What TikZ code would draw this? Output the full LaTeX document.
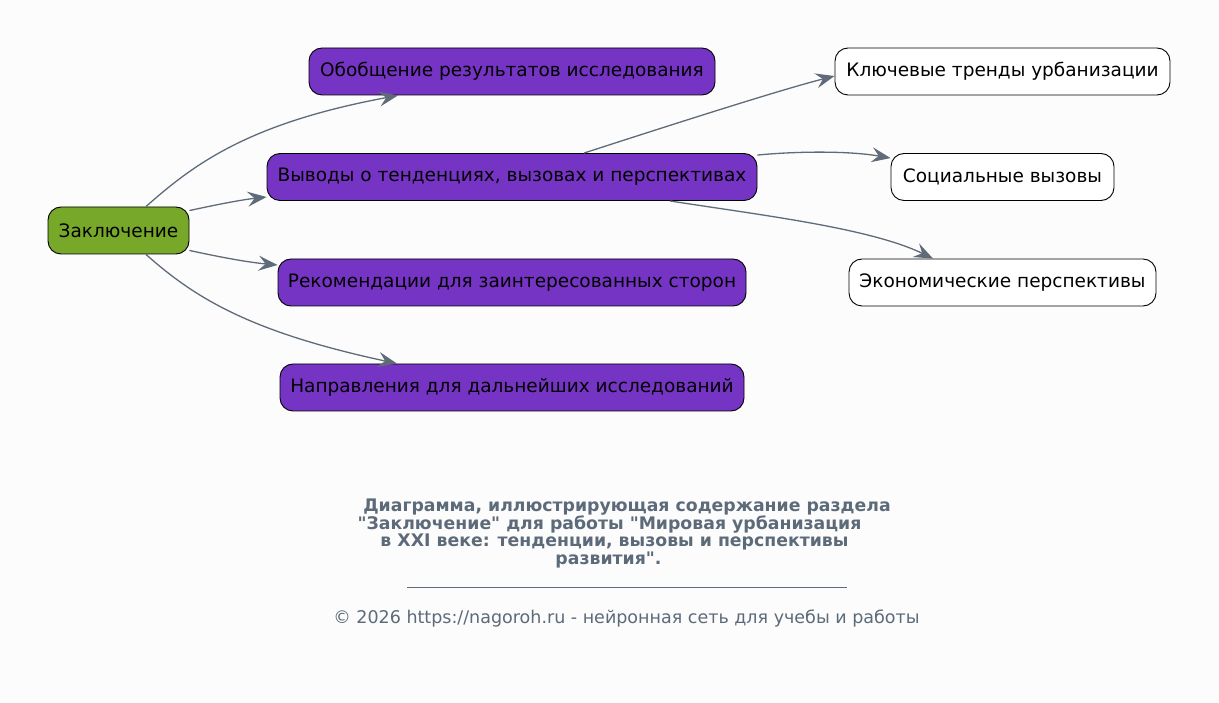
\documentclass[tikz,border=0pt]{standalone}
\usepackage{fontspec}
\setmainfont{DejaVu Sans}[Ligatures=TeXOff]
\usetikzlibrary{arrows.meta}
\definecolor{bg}{HTML}{FCFCFC}
\definecolor{pur}{HTML}{7634C4}
\definecolor{grn}{HTML}{77A82A}
\definecolor{edge}{HTML}{5F6B78}
\definecolor{ttl}{HTML}{5C6A7A}
\tikzset{
  box/.style={draw=black, line width=0.9pt, rounded corners=13pt, inner sep=0pt,
    minimum height=47pt, font=\fontsize{18.5}{22}\selectfont, text=black},
  purbox/.style={box, fill=pur},
  grnbox/.style={box, fill=grn},
  whtbox/.style={box, fill=white},
  conn/.style={draw=edge, line width=1.3pt, -{Stealth[length=19pt, width=15pt, inset=7pt]}},
  ttlfont/.style={font=\fontsize{17.3}{20}\selectfont\bfseries, text=ttl, inner sep=0pt},
}
\begin{document}
\begin{tikzpicture}[x=1pt, y=-1pt]
\fill[bg] (0,0) rectangle (1219,703);
\useasboundingbox (0,0) rectangle (1219,703);

\node[grnbox, minimum width=141pt] (z) at (118.5,230.5) {Заключение};
\node[purbox, minimum width=406pt] (o) at (512,71.5) {Обобщение результатов исследования};
\node[purbox, minimum width=490pt] (v) at (512,177) {Выводы о тенденциях, вызовах и перспективах};
\node[purbox, minimum width=468pt] (r) at (512,282.5) {Рекомендации для заинтересованных сторон};
\node[purbox, minimum width=464pt] (n) at (512,387.5) {Направления для дальнейших исследований};
\node[whtbox, minimum width=335pt] (k) at (1002.5,71.5) {Ключевые тренды урбанизации};
\node[whtbox, minimum width=223pt] (s) at (1002.5,177) {Социальные вызовы};
\node[whtbox, minimum width=307pt] (e) at (1002.5,282.5) {Экономические перспективы};

\draw[conn] ([xshift=27.5pt]z.north) .. controls (195,163) and (250,123) .. ([xshift=-114pt]o.south);
\draw[conn] ([yshift=-4pt]z.north east) .. controls (215,205) and (240,200) .. ([yshift=-20pt]v.west);
\draw[conn] ([yshift=4pt]z.south east) .. controls (215,256) and (245,262) .. ([yshift=17.5pt]r.west);
\draw[conn] ([xshift=27.5pt]z.south) .. controls (195,298) and (250,332) .. ([xshift=-115pt]n.north);
\draw[conn] ([xshift=72pt]v.north) .. controls (680,122) and (780,90) .. ([yshift=-4.5pt]k.west);
\draw[conn] ([yshift=-2pt]v.north east) .. controls (800,151) and (850,151) .. ([yshift=-5pt]s.north west);
\draw[conn] ([xshift=158pt]v.south) .. controls (760,215) and (870,228) .. ([xshift=-69.5pt]e.north);

\node[ttlfont] (t1) at (627,507) {Диаграмма, иллюстрирующая содержание раздела};
\node[ttlfont] (t2) at (609.5,525) {"Заключение" для работы "Мировая урбанизация};
\node[ttlfont] (t3) at (614.5,542) {в XXI веке: тенденции, вызовы и перспективы};
\node[ttlfont] (t4) at (608.5,560) {развития".};
\draw[ttl, line width=0.7pt] (407,587) coordinate (l1) -- (847,587) coordinate (l2);
\node[font=\fontsize{17.5}{20}\selectfont, text=ttl, inner sep=0pt] (f) at (626.5,619) {© 2026 https://nagoroh.ru - нейронная сеть для учебы и работы};
\end{tikzpicture}
\end{document}
